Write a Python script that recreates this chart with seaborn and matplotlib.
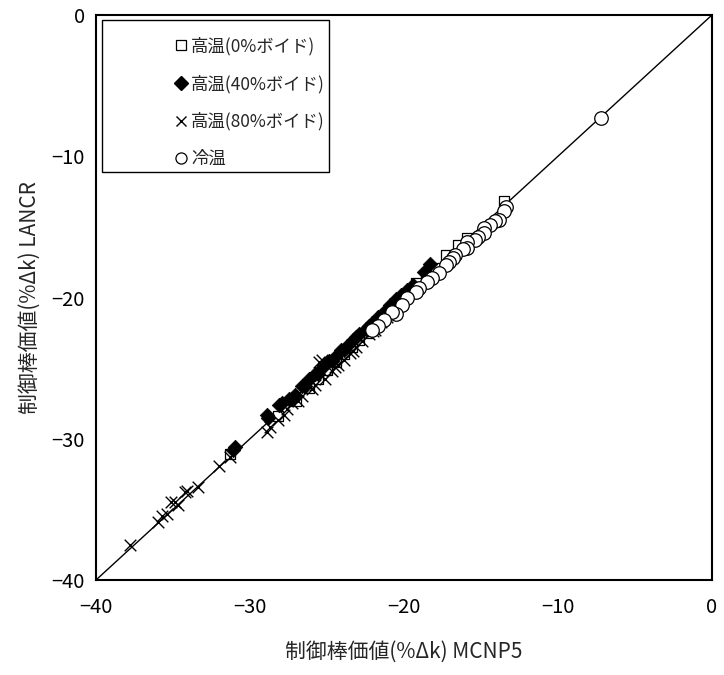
import numpy as np
import pandas as pd
import matplotlib
matplotlib.use("Agg")
import matplotlib.pyplot as plt
import seaborn as sns
from matplotlib.lines import Line2D
from matplotlib.patches import Rectangle

# MCNP5 (x) vs LANCR (y) control rod worth, %dk
hot0_x = [-13.5, -15.9, -16.5, -17.3, -18.0, -18.6, -19.2, -19.6, -20.0, -20.4,
          -20.9, -21.4, -21.9, -22.4, -22.9, -23.4, -23.9, -24.4, -25.0, -25.6,
          -26.2, -27.0, -28.2, -31.3]
hot0_y = [-13.2, -15.8, -16.3, -17.0, -17.9, -18.4, -19.0, -19.6, -19.9, -20.3,
          -20.8, -21.3, -21.9, -22.5, -23.0, -23.5, -24.0, -24.6, -25.1, -25.8,
          -26.4, -27.3, -28.4, -31.1]

hot40_x = [-31.0, -31.1, -28.8, -28.9, -28.1, -27.9, -27.5, -27.1, -26.6, -26.2,
           -25.8, -25.3, -24.9, -24.5, -24.1, -23.7, -23.3, -22.9, -22.5, -22.1,
           -21.7, -21.3, -20.9, -20.5, -20.2, -19.8, -19.4, -18.7, -18.3,
           -27.3, -26.4, -25.6, -24.7, -23.9, -23.1, -22.3, -21.5]
hot40_y = [-30.6, -30.8, -28.5, -28.3, -27.6, -27.5, -27.2, -26.9, -26.3, -25.8,
           -25.4, -25.0, -24.5, -24.2, -23.7, -23.4, -23.0, -22.6, -22.2, -21.8,
           -21.4, -21.0, -20.5, -20.1, -19.8, -19.5, -19.1, -18.2, -17.6,
           -27.2, -26.3, -25.4, -24.5, -23.7, -22.8, -22.0, -21.3]

hot80_x = [-37.8, -36.0, -35.7, -35.4, -35.1, -34.9, -34.7, -34.2, -34.1, -33.4,
           -32.0, -31.3, -28.9, -28.7, -28.2, -27.8, -27.3, -26.9, -26.6, -26.2,
           -25.8, -25.5, -25.3, -25.1, -24.7, -24.3, -23.9, -23.5, -23.1, -22.7,
           -22.3, -21.9, -21.5, -21.1, -20.7, -27.6, -26.0, -24.5, -23.3, -22.0]
hot80_y = [-37.5, -35.9, -35.5, -35.3, -34.5, -34.5, -34.7, -33.8, -33.7, -33.4,
           -31.9, -31.3, -29.5, -29.2, -28.7, -28.3, -27.5, -27.3, -27.0, -26.3,
           -26.2, -24.6, -24.4, -25.8, -25.2, -24.8, -24.4, -23.9, -23.5, -23.1,
           -22.6, -22.3, -21.7, -21.4, -20.9, -27.9, -26.5, -24.9, -23.8, -22.4]

cold_x = [-7.2, -13.4, -13.5, -13.8, -14.1, -14.4, -14.8, -14.8, -15.2, -15.4,
          -15.9, -15.9, -16.2, -16.7, -16.8, -17.1, -17.3, -17.7, -18.2, -18.5,
          -19.0, -19.2, -19.8, -20.1, -20.5, -20.8, -21.3, -21.7, -22.1]
cold_y = [-7.3, -13.6, -13.9, -14.5, -14.6, -14.9, -15.1, -15.4, -15.7, -15.9,
          -16.1, -16.5, -16.6, -17.0, -17.2, -17.5, -17.7, -18.3, -18.6, -18.9,
          -19.3, -19.6, -20.0, -20.5, -21.2, -21.0, -21.6, -22.0, -22.3]

labels = ["高温(0%ボイド)", "高温(40%ボイド)", "高温(80%ボイド)", "冷温"]

sns.set_style("white")
plt.rcParams['font.family'] = ['Noto Sans CJK JP', 'DejaVu Sans']

fig = plt.figure(figsize=(7.24, 6.75), dpi=100)
ax = fig.add_axes([96 / 724, 95 / 675, 616 / 724, 565 / 675])

ax.plot([-40, 0], [-40, 0], color='black', lw=1, zorder=1)

sns.scatterplot(x=hot0_x, y=hot0_y, marker='s', s=60, color='white',
                edgecolor='black', linewidth=0.9, ax=ax, zorder=2)
sns.scatterplot(x=hot40_x, y=hot40_y, marker='D', s=55, color='black',
                edgecolor='black', linewidth=0.5, ax=ax, zorder=3)
sns.scatterplot(x=hot80_x, y=hot80_y, marker='x', s=70, color='black',
                linewidth=1.0, ax=ax, zorder=4)
sns.scatterplot(x=cold_x, y=cold_y, marker='o', s=95, color='white',
                edgecolor='black', linewidth=0.9, ax=ax, zorder=5)

ax.set_xlim(-40, 0)
ax.set_ylim(-40, 0)
ax.set_xticks([-40, -30, -20, -10, 0])
ax.set_yticks([-40, -30, -20, -10, 0])
ax.tick_params(direction='in', length=6, width=1, labelsize=14.5, colors='black')
ax.tick_params(axis='x', pad=12)
ax.tick_params(axis='y', pad=8)
for sp in ax.spines.values():
    sp.set_color('black')
    sp.set_linewidth(1.5)

ax.set_xlabel("制御棒価値(%Δk) MCNP5", fontsize=15, labelpad=17)
ax.set_ylabel("制御棒価値(%Δk) LANCR", fontsize=15, labelpad=8)

handles = [
    Line2D([], [], ls='none', marker='s', markersize=7, markerfacecolor='white',
           markeredgecolor='black', markeredgewidth=0.9),
    Line2D([], [], ls='none', marker='D', markersize=7, markerfacecolor='black',
           markeredgecolor='black'),
    Line2D([], [], ls='none', marker='x', markersize=7, color='black',
           markeredgewidth=1.0),
    Line2D([], [], ls='none', marker='o', markersize=8, markerfacecolor='white',
           markeredgecolor='black', markeredgewidth=0.9),
]
leg = ax.legend(handles, labels, loc='upper left',
                bbox_to_anchor=(6 / 616, 1 - 5 / 565),
                fontsize=12.5, frameon=False, borderpad=0.98,
                labelspacing=1.1, handlelength=7.1, handletextpad=-2.95,
                borderaxespad=0)
ax.add_patch(Rectangle((6 / 616, 1 - 157 / 565), 227 / 616, 152 / 565,
                       transform=ax.transAxes, fill=True, facecolor='white',
                       edgecolor='black', lw=1.0, zorder=6))
leg.set_zorder(7)

fig.savefig("out.png", dpi=100)
